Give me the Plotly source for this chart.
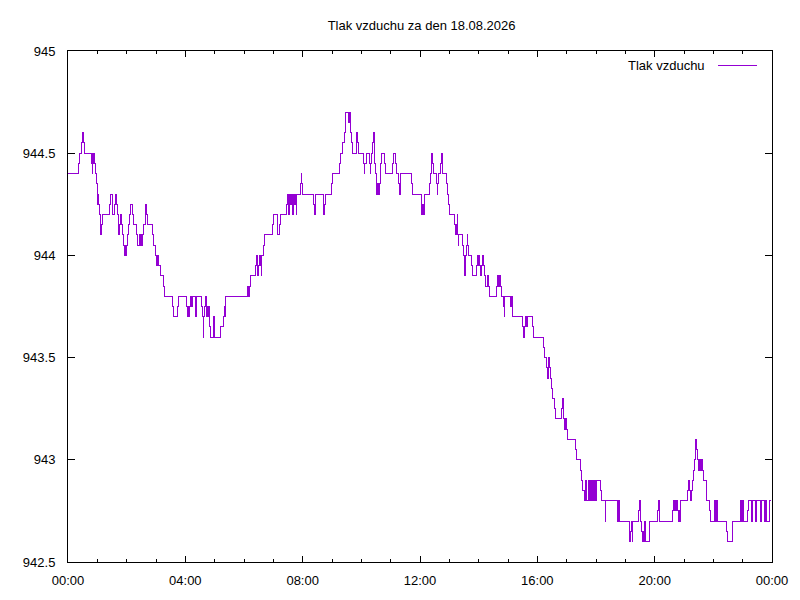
#!/bin/python3
import pandas as pd
import plotly.graph_objects as go

day = '2026-08-18'
title = 'Tlak vzduchu za den 18.08.2026'
series_name = 'Tlak vzduchu'

# change points of the pressure record (time, hPa), drawn as steps
times = [
    '00:00', '00:21', '00:23', '00:27', '00:29', '00:31', '00:33', '00:48', '00:50', '00:51',
    '00:53', '00:54', '00:55', '00:56', '00:58',
    '01:00', '01:01', '01:02', '01:03', '01:04', '01:06', '01:07', '01:08', '01:10', '01:24',
    '01:26', '01:30', '01:32', '01:36', '01:38', '01:40', '01:42', '01:43', '01:44', '01:46',
    '01:48', '01:49', '01:51', '01:53', '01:55', '01:57', '01:58',
    '02:00', '02:02', '02:04', '02:05', '02:07', '02:11', '02:13', '02:21', '02:23', '02:27',
    '02:29', '02:30', '02:31', '02:33', '02:34', '02:38', '02:39', '02:40', '02:42', '02:52',
    '02:54', '02:59',
    '03:01', '03:03', '03:06', '03:09', '03:16', '03:18', '03:34', '03:36', '03:43', '03:45',
    '04:03', '04:04', '04:06', '04:08', '04:09', '04:10', '04:12', '04:14', '04:20', '04:21',
    '04:23', '04:34', '04:36', '04:37', '04:38', '04:40', '04:42', '04:43', '04:44', '04:46',
    '04:47', '04:49', '04:51', '04:57', '04:59',
    '05:12', '05:18', '05:20', '05:21', '05:22',
    '06:07', '06:09', '06:11', '06:13', '06:24', '06:26', '06:27', '06:28', '06:30', '06:32',
    '06:33', '06:35', '06:36', '06:40', '06:42', '06:58',
    '07:00', '07:08', '07:09', '07:13', '07:15', '07:27', '07:29', '07:30', '07:32', '07:34',
    '07:36', '07:37', '07:39', '07:40', '07:42', '07:43', '07:45', '07:47', '07:48', '07:55',
    '07:57', '07:58',
    '08:00', '08:23', '08:25', '08:27', '08:42', '08:43', '08:45', '08:46', '08:58',
    '09:00', '09:15', '09:17', '09:22', '09:25', '09:27', '09:28', '09:33', '09:35', '09:37',
    '09:38', '09:39', '09:42', '09:50', '09:51', '09:52', '09:54',
    '10:04', '10:06', '10:07', '10:10', '10:16', '10:18', '10:19', '10:20', '10:22', '10:24',
    '10:26', '10:27', '10:29', '10:31', '10:32', '10:34', '10:35', '10:37', '10:39', '10:41',
    '10:48', '10:50',
    '11:04', '11:05', '11:10', '11:11', '11:17', '11:19', '11:20', '11:42', '11:44',
    '12:03', '12:04', '12:06', '12:08', '12:09', '12:19', '12:21', '12:23', '12:24', '12:25',
    '12:27', '12:33', '12:35', '12:36', '12:38', '12:41', '12:43', '12:45', '12:47', '12:55',
    '12:57', '12:59',
    '13:01', '13:10', '13:12', '13:13', '13:14', '13:16', '13:17', '13:18', '13:19', '13:26',
    '13:28', '13:30', '13:31', '13:33', '13:35', '13:37', '13:38', '13:40', '13:46', '13:48',
    '13:55', '13:57', '13:58',
    '14:00', '14:02', '14:04', '14:06', '14:08', '14:09', '14:11', '14:13', '14:18', '14:20',
    '14:22', '14:37', '14:39', '14:41', '14:43', '14:44', '14:46', '14:50', '14:52', '14:53',
    '15:05', '15:07', '15:09', '15:10', '15:30', '15:32', '15:34', '15:36', '15:38', '15:39',
    '15:51', '15:53',
    '16:12', '16:14', '16:19', '16:21', '16:23', '16:25', '16:27', '16:29', '16:30', '16:35',
    '16:37', '16:50', '16:52', '16:53', '16:55', '16:57', '16:59',
    '17:01', '17:18', '17:20', '17:29', '17:31', '17:33', '17:36', '17:38', '17:41', '17:44',
    '17:46', '17:48', '17:50', '17:52', '17:54', '17:56', '17:58',
    '18:00', '18:10', '18:11', '18:19', '18:20', '18:44', '18:45', '18:49',
    '19:09', '19:11', '19:13', '19:14', '19:15', '19:26', '19:28', '19:30', '19:34', '19:35',
    '19:37', '19:38', '19:40', '19:41', '19:42', '19:50',
    '20:06', '20:08', '20:09', '20:10', '20:37', '20:39', '20:41', '20:42', '20:44', '20:45',
    '20:47', '20:48', '20:50', '20:51', '20:52',
    '21:08', '21:10', '21:12', '21:14', '21:16', '21:18', '21:20', '21:22', '21:23', '21:24',
    '21:26', '21:27', '21:29', '21:31', '21:33', '21:35', '21:37', '21:39', '21:45', '21:47',
    '21:53', '21:55',
    '22:02', '22:04', '22:07', '22:09', '22:27', '22:28', '22:39', '22:40', '22:55', '22:56',
    '22:58',
    '23:00', '23:02', '23:10', '23:11', '23:19', '23:20', '23:26', '23:28', '23:37', '23:38',
    '23:44', '23:46', '23:49', '23:55', '23:58',
]
pressure = [
    944.40, 944.45, 944.50, 944.55, 944.60, 944.55, 944.50, 944.45, 944.40, 944.50,
    944.45, 944.50, 944.45, 944.40, 944.35,
    944.30, 944.25, 944.30, 944.25, 944.20, 944.15, 944.10, 944.15, 944.20, 944.25,
    944.30, 944.25, 944.20, 944.25, 944.30, 944.25, 944.20, 944.15, 944.10, 944.15,
    944.20, 944.15, 944.10, 944.05, 944.00, 944.05, 944.00,
    944.05, 944.10, 944.15, 944.20, 944.25, 944.20, 944.15, 944.10, 944.05, 944.10,
    944.05, 944.10, 944.05, 944.10, 944.15, 944.20, 944.25, 944.20, 944.15, 944.10,
    944.05, 944.00,
    943.95, 944.00, 943.95, 943.90, 943.85, 943.80, 943.75, 943.70, 943.75, 943.80,
    943.75, 943.70, 943.75, 943.70, 943.75, 943.80, 943.75, 943.80, 943.75, 943.70,
    943.80, 943.75, 943.70, 943.60, 943.70, 943.75, 943.80, 943.70, 943.75, 943.70,
    943.75, 943.65, 943.60, 943.70, 943.60,
    943.65, 943.70, 943.75, 943.70, 943.80,
    943.85, 943.80, 943.85, 943.90, 943.95, 944.00, 943.95, 943.90, 943.95, 944.00,
    943.95, 943.90, 944.00, 944.05, 944.10, 944.15,
    944.20, 944.15, 944.10, 944.15, 944.20, 944.25, 944.30, 944.25, 944.20, 944.30,
    944.25, 944.30, 944.25, 944.20, 944.30, 944.25, 944.30, 944.20, 944.30, 944.35,
    944.40, 944.35,
    944.30, 944.25, 944.20, 944.30, 944.25, 944.20, 944.25, 944.30, 944.35,
    944.40, 944.45, 944.50, 944.55, 944.60, 944.65, 944.70, 944.65, 944.70, 944.65,
    944.60, 944.55, 944.50, 944.55, 944.60, 944.55, 944.50,
    944.45, 944.40, 944.45, 944.50, 944.45, 944.40, 944.45, 944.50, 944.55, 944.60,
    944.50, 944.45, 944.40, 944.35, 944.30, 944.35, 944.30, 944.35, 944.45, 944.50,
    944.45, 944.40,
    944.45, 944.50, 944.45, 944.40, 944.35, 944.30, 944.40, 944.35, 944.30,
    944.25, 944.20, 944.25, 944.20, 944.30, 944.35, 944.40, 944.45, 944.50, 944.45,
    944.40, 944.35, 944.30, 944.35, 944.40, 944.45, 944.50, 944.45, 944.40, 944.35,
    944.30, 944.25,
    944.20, 944.15, 944.10, 944.15, 944.10, 944.20, 944.10, 944.05, 944.10, 944.05,
    944.00, 943.95, 943.90, 944.00, 944.05, 944.10, 944.05, 944.00, 943.95, 943.90,
    943.95, 944.00, 943.95,
    944.00, 943.95, 943.90, 943.95, 944.00, 943.95, 943.90, 943.85, 943.90, 943.85,
    943.80, 943.85, 943.90, 943.85, 943.90, 943.85, 943.80, 943.75, 943.70, 943.80,
    943.75, 943.80, 943.75, 943.70, 943.65, 943.60, 943.65, 943.70, 943.65, 943.70,
    943.65, 943.60,
    943.55, 943.50, 943.45, 943.40, 943.50, 943.45, 943.40, 943.35, 943.30, 943.25,
    943.20, 943.25, 943.30, 943.20, 943.15, 943.20, 943.15,
    943.10, 943.05, 943.00, 942.95, 942.90, 942.85, 942.80, 942.90, 942.80, 942.90,
    942.80, 942.90, 942.80, 942.90, 942.80, 942.90, 942.80,
    942.90, 942.85, 942.80, 942.70, 942.80, 942.70, 942.80, 942.70,
    942.60, 942.65, 942.70, 942.60, 942.70, 942.75, 942.80, 942.70, 942.65, 942.60,
    942.65, 942.60, 942.70, 942.65, 942.60, 942.70,
    942.75, 942.80, 942.75, 942.70, 942.75, 942.80, 942.75, 942.80, 942.75, 942.80,
    942.75, 942.70, 942.75, 942.70, 942.80,
    942.85, 942.90, 942.85, 942.80, 942.85, 942.90, 942.95, 943.00, 943.05, 943.10,
    943.05, 943.00, 942.95, 943.00, 942.95, 943.00, 942.95, 942.90, 942.85, 942.80,
    942.75, 942.70,
    942.80, 942.70, 942.80, 942.70, 942.65, 942.60, 942.65, 942.70, 942.75, 942.80,
    942.70,
    942.80, 942.70, 942.75, 942.80, 942.70, 942.80, 942.70, 942.80, 942.70, 942.80,
    942.70, 942.80, 942.70, 942.80, 942.80,
]

y_ticks = [942.5, 943, 943.5, 944, 944.5, 945]
x_ticks = ['00:00', '04:00', '08:00', '12:00', '16:00', '20:00', '00:00']

df = pd.DataFrame({'Time': pd.to_datetime([day + ' ' + t for t in times]), 'Pressure': pressure})
start = pd.Timestamp(day)
end = start + pd.Timedelta(days=1)
tick_vals = [start + pd.Timedelta(hours=4 * i) for i in range(len(x_ticks))]

font = 'Liberation Sans, Arial, sans-serif'

fig = go.Figure()
fig.add_trace(go.Scatter(
    x=df['Time'],
    y=df['Pressure'],
    mode='lines',
    name=series_name,
    line=dict(color='#9400D3', width=1, shape='hv'),
    showlegend=False
))

axis_common = dict(
    showline=True, linecolor='black', linewidth=1, mirror='ticks',
    ticks='inside', tickcolor='black', showgrid=False, zeroline=False,
    tickfont=dict(family=font, size=13, color='black'),
)

fig.update_layout(
    width=800, height=600,
    paper_bgcolor='white', plot_bgcolor='white',
    margin=dict(l=68, r=25, t=51, b=35),
    title=dict(text=title, x=0.527, xanchor='center', y=0.957, yanchor='middle',
               font=dict(family=font, size=13, color='black')),
    xaxis=dict(range=[start, end], tickvals=tick_vals, ticktext=x_ticks, ticklen=6,
               ticklabelstandoff=6,
               minor=dict(dtick=3600000, tick0=start, ticks='inside', ticklen=3,
                          tickcolor='black'),
               **axis_common),
    yaxis=dict(range=[942.5, 945], tickvals=y_ticks, ticklen=7, ticklabelstandoff=9,
               **axis_common),
)

# gnuplot-style key: text first, then the line sample
fig.add_annotation(x=0.908, y=0.971, xref='paper', yref='paper', text=series_name,
                   showarrow=False, xanchor='right', yanchor='middle',
                   font=dict(family=font, size=13, color='black'))
fig.add_shape(type='line', xref='paper', yref='paper', x0=0.924, x1=0.978, y0=0.971, y1=0.971,
              line=dict(color='#9400D3', width=1))

# no page margin, crisp 1px lines like the gnuplot png
post = (
    "document.documentElement.style.overflow='hidden';"
    "document.body.style.margin='0';document.body.style.overflow='hidden';"
    "var gd=document.getElementById('{plot_id}');"
    "function crisp(){gd.querySelectorAll('.scatterlayer path, .shapelayer path')"
    ".forEach(function(p){p.style.shapeRendering='crispEdges';});}"
    "crisp();gd.on('plotly_afterplot',crisp);"
)
fig.write_html('out.html', config={'displayModeBar': False}, post_script=post)
